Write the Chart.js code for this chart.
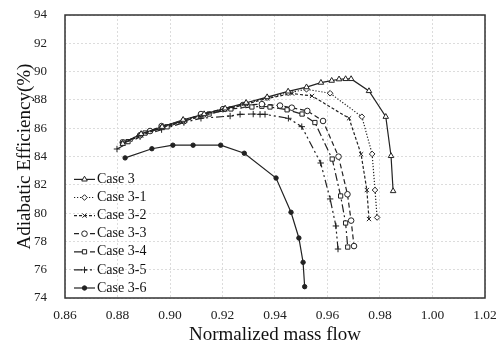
<!DOCTYPE html>
<html>
<head>
<meta charset="utf-8">
<script src="https://cdn.jsdelivr.net/npm/chart.js@4/dist/chart.umd.min.js"></script>
<style>
  html, body { margin: 0; padding: 0; background: #fff; }
  #wrap { width: 502px; height: 346px; }
</style>
</head>
<body>
<div id="wrap"><canvas id="grafico"></canvas></div>
<script>
// values
const seriesNames = ['Case 3', 'Case 3-1', 'Case 3-2', 'Case 3-3', 'Case 3-4', 'Case 3-5', 'Case 3-6'];

const case3Flow = [0.882, 0.889, 0.897, 0.905, 0.913, 0.921, 0.929, 0.937, 0.945, 0.952, 0.9575, 0.9616, 0.9644, 0.9669, 0.969, 0.9758, 0.9822, 0.9842, 0.985];
const case3Eff  = [84.9, 85.6, 86.1, 86.6, 87.0, 87.4, 87.8, 88.2, 88.6, 88.9, 89.22, 89.36, 89.46, 89.48, 89.48, 88.63, 86.81, 84.04, 81.56];

const case31Flow = [0.882, 0.889, 0.897, 0.905, 0.913, 0.921, 0.929, 0.937, 0.945, 0.952, 0.961, 0.9731, 0.977, 0.9781, 0.9789];
const case31Eff  = [84.95, 85.6, 86.1, 86.55, 86.95, 87.35, 87.75, 88.15, 88.5, 88.75, 88.47, 86.81, 84.18, 81.63, 79.69];

const case32Flow = [0.882, 0.889, 0.897, 0.905, 0.913, 0.921, 0.929, 0.937, 0.9465, 0.9541, 0.9682, 0.9728, 0.975, 0.9758];
const case32Eff  = [84.9, 85.5, 86.05, 86.5, 86.9, 87.3, 87.7, 88.1, 88.45, 88.28, 86.7, 84.16, 81.63, 79.58];

const case33Flow = [0.882, 0.8886, 0.8924, 0.8968, 0.9053, 0.9118, 0.9202, 0.9278, 0.935, 0.9419, 0.9464, 0.9523, 0.9583, 0.9642, 0.9676, 0.969, 0.9701];
const case33Eff  = [85.0, 85.5, 85.8, 86.15, 86.5, 87.0, 87.35, 87.64, 87.7, 87.6, 87.45, 87.22, 86.51, 83.99, 81.33, 79.47, 77.67];

const case34Flow = [0.882, 0.884, 0.8905, 0.8989, 0.9053, 0.9149, 0.9232, 0.9312, 0.935, 0.9381, 0.9446, 0.9503, 0.9552, 0.9618, 0.965, 0.9669, 0.9677];
const case34Eff  = [85.0, 85.05, 85.66, 86.1, 86.5, 87.0, 87.36, 87.5, 87.55, 87.5, 87.3, 87.0, 86.4, 83.82, 81.21, 79.3, 77.6];

const case35Flow = [0.8798, 0.8886, 0.8968, 0.9053, 0.9118, 0.9229, 0.9267, 0.9317, 0.9343, 0.9362, 0.9451, 0.9502, 0.9574, 0.961, 0.9632, 0.964];
const case35Eff  = [84.53, 85.4, 85.9, 86.4, 86.7, 86.86, 86.98, 87.0, 86.98, 86.98, 86.7, 86.11, 83.54, 81.0, 79.09, 77.46];

const case36Flow = [0.8829, 0.8931, 0.9011, 0.9088, 0.9193, 0.9283, 0.9404, 0.9461, 0.9491, 0.9507, 0.9513];
const case36Eff  = [83.9, 84.55, 84.8, 84.8, 84.8, 84.23, 82.48, 80.06, 78.24, 76.52, 74.8];

const flowTicks = [0.86, 0.88, 0.90, 0.92, 0.94, 0.96, 0.98, 1.00, 1.02];
const effTicks = [74, 76, 78, 80, 82, 84, 86, 88, 90, 92, 94];

const flows = [case3Flow, case31Flow, case32Flow, case33Flow, case34Flow, case35Flow, case36Flow];
const effs = [case3Eff, case31Eff, case32Eff, case33Eff, case34Eff, case35Eff, case36Eff];

const ink = '#222';
const estilos = [
    { dash: [], point: 'triangle', radius: 3.2, fill: '#fff' },
    { dash: [1.2, 1.8], point: 'rectRot', radius: 2.8, fill: '#fff' },
    { dash: [3, 2], point: 'crossRot', radius: 3, fill: '#fff' },
    { dash: [5, 3], point: 'circle', radius: 2.8, fill: '#fff' },
    { dash: [8, 3, 2, 3], point: 'rect', radius: 3, fill: '#fff' },
    { dash: [8, 3, 2, 3, 2, 3], point: 'cross', radius: 3.2, fill: '#fff' },
    { dash: [], point: 'circle', radius: 2.2, fill: ink }
];

const datasets = seriesNames.map((name, i) => ({
    label: name,
    data: flows[i].map((x, k) => ({ x: x, y: effs[i][k] })),
    borderColor: ink,
    borderWidth: 1.2,
    borderDash: estilos[i].dash,
    pointStyle: estilos[i].point,
    pointRadius: estilos[i].radius,
    pointBackgroundColor: estilos[i].fill,
    pointBorderColor: ink,
    pointBorderWidth: 1,
    tension: 0,
    fill: false
}));

// legend drawn inside the plot, bottom-left, like the original
const legendaDentro = {
    id: 'legendaDentro',
    afterDatasetsDraw(chart) {
        const ctx = chart.ctx;
        const area = chart.chartArea;
        const x0 = area.left + 9, x1 = area.left + 30;
        const rowH = 18.1;
        const yStart = area.bottom - 10 - rowH * (datasets.length - 1);
        ctx.save();
        ctx.font = '14px "Liberation Serif", "Times New Roman", serif';
        ctx.textBaseline = 'middle';
        datasets.forEach((ds, i) => {
            const y = yStart + i * rowH;
            ctx.strokeStyle = ink;
            ctx.lineWidth = 1.2;
            ctx.setLineDash(ds.borderDash);
            ctx.beginPath();
            ctx.moveTo(x0, y);
            ctx.lineTo(x1, y);
            ctx.stroke();
            ctx.setLineDash([]);
            ctx.fillStyle = ds.pointBackgroundColor;
            ctx.lineWidth = 1;
            Chart.helpers.drawPoint(ctx, { pointStyle: ds.pointStyle, radius: ds.pointRadius, rotation: 0, borderWidth: 1 }, (x0 + x1) / 2, y);
            ctx.fillStyle = '#111';
            ctx.fillText(ds.label, x1 + 2, y);
        });
        ctx.restore();
    }
};

const moldura = {
    id: 'moldura',
    afterDraw(chart) {
        const a = chart.chartArea;
        const ctx = chart.ctx;
        ctx.save();
        ctx.strokeStyle = '#333';
        ctx.lineWidth = 1.5;
        ctx.strokeRect(a.left, a.top, a.right - a.left, a.bottom - a.top);
        ctx.restore();
    }
};

const serif = '"Liberation Serif", "Times New Roman", serif';

new Chart(document.getElementById('grafico'), {
    type: 'line',
    data: { datasets: datasets },
    options: {
        responsive: true,
        maintainAspectRatio: false,
        animation: false,
        layout: { padding: { left: 0, right: 17, top: 15, bottom: 0 } },
        plugins: {
            legend: { display: false },
            tooltip: { enabled: false }
        },
        scales: {
            x: {
                type: 'linear',
                min: flowTicks[0],
                max: flowTicks[flowTicks.length - 1],
                afterBuildTicks(scale) { scale.ticks = flowTicks.map(v => ({ value: v })); },
                afterFit(scale) {
                    scale.height = 48;
                    scale.paddingLeft = 0;
                    scale.paddingRight = 0;
                },
                ticks: {
                    color: '#222',
                    font: { family: serif, size: 13.5 },
                    padding: 9,
                    maxRotation: 0,
                    callback: v => Number(v).toFixed(2)
                },
                grid: { color: '#dcdcdc', lineWidth: 1, drawTicks: false },
                border: { display: false, dash: [2, 2] },
                title: {
                    display: true,
                    text: 'Normalized mass flow',
                    color: '#111',
                    font: { family: serif, size: 19 },
                    padding: { top: 0, bottom: 0 }
                }
            },
            y: {
                type: 'linear',
                min: effTicks[0],
                max: effTicks[effTicks.length - 1],
                afterBuildTicks(scale) { scale.ticks = effTicks.map(v => ({ value: v })); },
                afterFit(scale) {
                    scale.width = 65;
                    scale.paddingTop = 0;
                    scale.paddingBottom = 0;
                },
                ticks: {
                    color: '#222',
                    font: { family: serif, size: 13 },
                    padding: 18
                },
                grid: { color: '#dcdcdc', lineWidth: 1, drawTicks: false },
                border: { display: false, dash: [2, 2] },
                title: {
                    display: true,
                    text: 'Adiabatic Efficiency(%)',
                    color: '#111',
                    font: { family: serif, size: 19 },
                    padding: { top: 14, bottom: 0 }
                }
            }
        }
    },
    plugins: [legendaDentro, moldura]
});
</script>
</body>
</html>
